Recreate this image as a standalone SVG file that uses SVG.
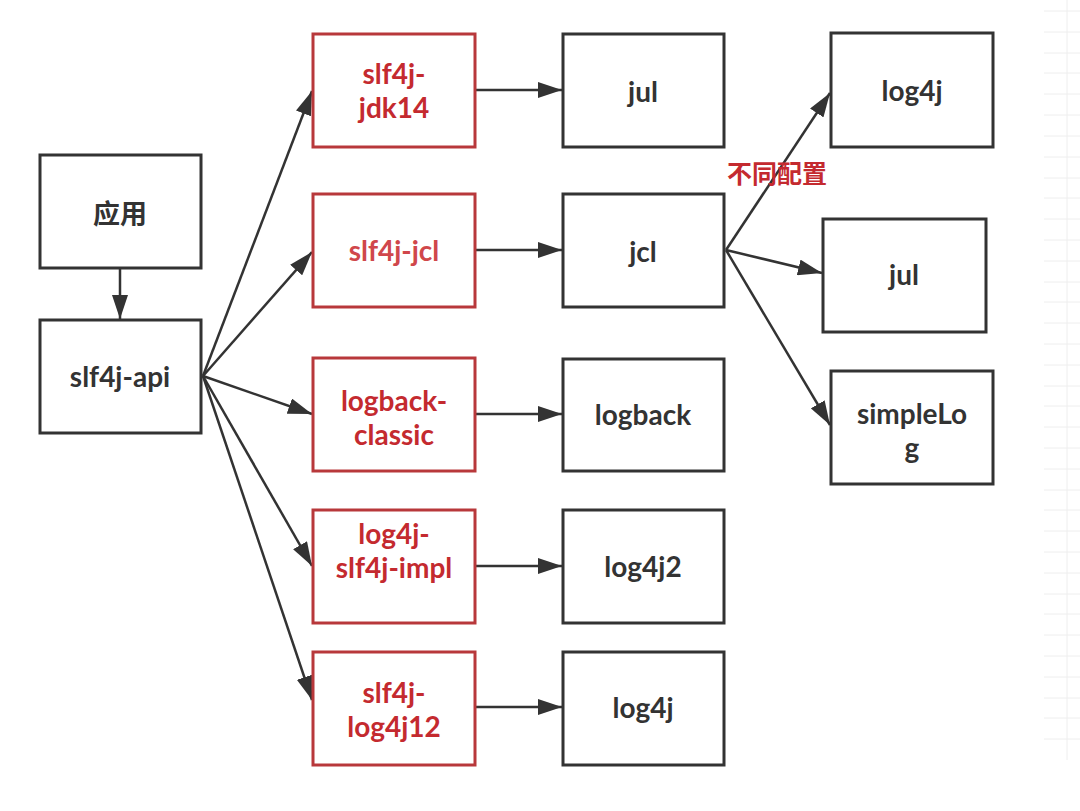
<svg xmlns="http://www.w3.org/2000/svg" width="1080" height="811" viewBox="0 0 1080 811">
<defs>
<style>
.box{fill:#fff;stroke:#333;stroke-width:3}
.rbox{fill:#fff;stroke:#b8383b;stroke-width:3}
.t{font-family:"Lato","Open Sans","Noto Sans CJK SC",sans-serif;font-weight:bold;font-size:28px;fill:#333;text-anchor:middle;dominant-baseline:central}
.cjk{font-family:"Noto Sans CJK SC",sans-serif}
.r{fill:#c42a2f}
.c{stroke:#333;stroke-width:2.5;fill:none;marker-end:url(#ah)}
.g{stroke:#eeeeee;stroke-width:1}
</style>
<marker id="ah" markerUnits="userSpaceOnUse" markerWidth="24" markerHeight="16" viewBox="0 0 24 16" refX="24" refY="8" orient="auto">
<path d="M0,0 L24,8 L0,16 z" fill="#333"/>
</marker>
</defs>
<rect width="1080" height="811" fill="#fff"/>
<g id="grid">
<line class="g" x1="1067" y1="0" x2="1067" y2="760"/>
<line class="g" x1="1044" y1="11" x2="1080" y2="11"/>
<line class="g" x1="1044" y1="32" x2="1080" y2="32"/>
<line class="g" x1="1044" y1="53" x2="1080" y2="53"/>
<line class="g" x1="1044" y1="73" x2="1080" y2="73"/>
<line class="g" x1="1044" y1="94" x2="1080" y2="94"/>
<line class="g" x1="1044" y1="115" x2="1080" y2="115"/>
<line class="g" x1="1044" y1="136" x2="1080" y2="136"/>
<line class="g" x1="1044" y1="157" x2="1080" y2="157"/>
<line class="g" x1="1044" y1="178" x2="1080" y2="178"/>
<line class="g" x1="1044" y1="198" x2="1080" y2="198"/>
<line class="g" x1="1044" y1="219" x2="1080" y2="219"/>
<line class="g" x1="1044" y1="240" x2="1080" y2="240"/>
<line class="g" x1="1044" y1="261" x2="1080" y2="261"/>
<line class="g" x1="1044" y1="282" x2="1080" y2="282"/>
<line class="g" x1="1044" y1="302" x2="1080" y2="302"/>
<line class="g" x1="1044" y1="323" x2="1080" y2="323"/>
<line class="g" x1="1044" y1="344" x2="1080" y2="344"/>
<line class="g" x1="1044" y1="365" x2="1080" y2="365"/>
<line class="g" x1="1044" y1="386" x2="1080" y2="386"/>
<line class="g" x1="1044" y1="406" x2="1080" y2="406"/>
<line class="g" x1="1044" y1="427" x2="1080" y2="427"/>
<line class="g" x1="1044" y1="448" x2="1080" y2="448"/>
<line class="g" x1="1044" y1="469" x2="1080" y2="469"/>
<line class="g" x1="1044" y1="490" x2="1080" y2="490"/>
<line class="g" x1="1044" y1="510" x2="1080" y2="510"/>
<line class="g" x1="1044" y1="531" x2="1080" y2="531"/>
<line class="g" x1="1044" y1="552" x2="1080" y2="552"/>
<line class="g" x1="1044" y1="573" x2="1080" y2="573"/>
<line class="g" x1="1044" y1="594" x2="1080" y2="594"/>
<line class="g" x1="1044" y1="614" x2="1080" y2="614"/>
<line class="g" x1="1044" y1="635" x2="1080" y2="635"/>
<line class="g" x1="1044" y1="656" x2="1080" y2="656"/>
<line class="g" x1="1044" y1="677" x2="1080" y2="677"/>
<line class="g" x1="1044" y1="698" x2="1080" y2="698"/>
<line class="g" x1="1044" y1="718" x2="1080" y2="718"/>
<line class="g" x1="1044" y1="739" x2="1080" y2="739"/>
</g>
<g id="connectors">
<line class="c" x1="120" y1="269" x2="120" y2="319"/>
<line class="c" x1="203" y1="376" x2="312" y2="91"/>
<line class="c" x1="203" y1="376" x2="312" y2="252"/>
<line class="c" x1="203" y1="376" x2="312" y2="414"/>
<line class="c" x1="203" y1="376" x2="312" y2="566"/>
<line class="c" x1="203" y1="376" x2="312" y2="700"/>
<line class="c" x1="476" y1="90" x2="562" y2="90"/>
<line class="c" x1="476" y1="250" x2="562" y2="250"/>
<line class="c" x1="476" y1="414" x2="562" y2="414"/>
<line class="c" x1="476" y1="566" x2="562" y2="566"/>
<line class="c" x1="476" y1="707" x2="562" y2="707"/>
<line class="c" x1="726" y1="250" x2="830" y2="93"/>
<line class="c" x1="726" y1="250" x2="822" y2="273"/>
<line class="c" x1="726" y1="250" x2="830" y2="425"/>
</g>
<text class="t r cjk" x="777" y="172" style="font-size:25px">不同配置</text>
<g id="app"><rect class="box" x="40" y="155" width="161" height="113"/><text class="t cjk" x="120" y="212" style="font-size:27px">应用</text></g>
<g id="api"><rect class="box" x="40" y="320" width="161" height="113"/><text class="t" x="120" y="376">slf4j-api</text></g>
<g id="jdk14"><rect class="rbox" x="313" y="34" width="162" height="113"/><text class="t r" x="394" y="73">slf4j-</text><text class="t r" x="394" y="107">jdk14</text></g>
<g id="sjcl"><rect class="rbox" x="313" y="194" width="162" height="113"/><text class="t r" x="394" y="250" style="fill:#d0474b">slf4j-jcl</text></g>
<g id="lbc"><rect class="rbox" x="313" y="358" width="162" height="113"/><text class="t r" x="394" y="400">logback-</text><text class="t r" x="394" y="434">classic</text></g>
<g id="l4simpl"><rect class="rbox" x="313" y="510" width="162" height="113"/><text class="t r" x="394" y="533">log4j-</text><text class="t r" x="394" y="567">slf4j-impl</text></g>
<g id="sl4j12"><rect class="rbox" x="313" y="652" width="162" height="113"/><text class="t r" x="394" y="692">slf4j-</text><text class="t r" x="394" y="726">log4j12</text></g>
<g id="jul1"><rect class="box" x="563" y="34" width="161" height="113"/><text class="t" x="643" y="91">jul</text></g>
<g id="jcl"><rect class="box" x="563" y="194" width="161" height="113"/><text class="t" x="643" y="251">jcl</text></g>
<g id="logback"><rect class="box" x="563" y="359" width="161" height="112"/><text class="t" x="643" y="414">logback</text></g>
<g id="log4j2"><rect class="box" x="563" y="510" width="161" height="113"/><text class="t" x="643" y="566">log4j2</text></g>
<g id="log4j1"><rect class="box" x="563" y="652" width="161" height="113"/><text class="t" x="643" y="707">log4j</text></g>
<g id="log4jR"><rect class="box" x="831" y="33" width="162" height="114"/><text class="t" x="912" y="90">log4j</text></g>
<g id="julR"><rect class="box" x="823" y="219" width="163" height="113"/><text class="t" x="904" y="274">jul</text></g>
<g id="simpleLog"><rect class="box" x="831" y="371" width="162" height="113"/><text class="t" x="912" y="413">simpleLo</text><text class="t" x="912" y="447">g</text></g>
</svg>
